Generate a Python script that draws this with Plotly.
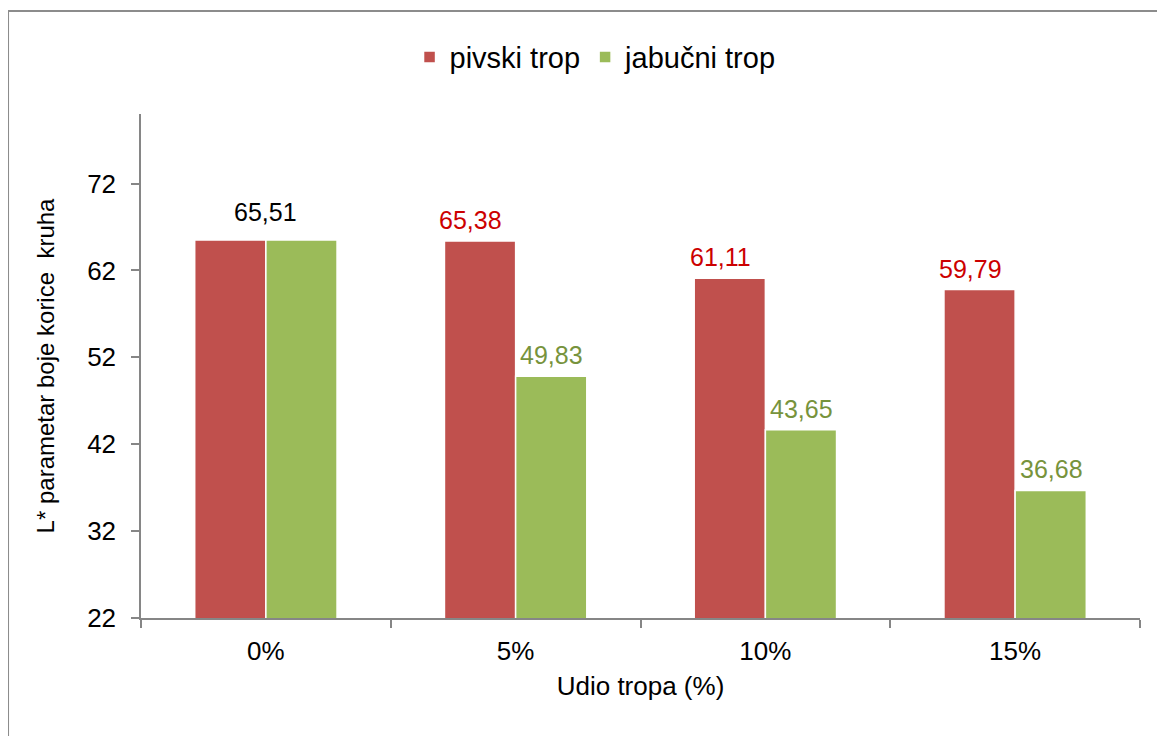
import plotly.graph_objects as go

# data
kategorije = ["0%", "5%", "10%", "15%"]
pivski_trop = [65.51, 65.38, 61.11, 59.79]
jabucni_trop = [65.51, 49.83, 43.65, 36.68]
y_ticks = [22, 32, 42, 52, 62, 72]

crvena = "#C0504D"
zelena = "#9BBB59"
font = "Liberation Sans, Arial, sans-serif"


def fmt(v):
    return f"{v:.2f}".replace(".", ",")


fig = go.Figure()
fig.add_trace(go.Bar(
    x=kategorije, y=pivski_trop, name="pivski trop",
    marker=dict(color=crvena, line=dict(color="white", width=1.5)),
))
fig.add_trace(go.Bar(
    x=kategorije, y=jabucni_trop, name="jabučni trop",
    marker=dict(color=zelena, line=dict(color="white", width=1.5)),
))

# data labels; at 0% both bars are equal so there is one shared black label
for i, kat in enumerate(kategorije):
    if pivski_trop[i] == jabucni_trop[i]:
        fig.add_annotation(x=kat, y=pivski_trop[i], text=fmt(pivski_trop[i]),
                           showarrow=False, yanchor="bottom", yshift=12,
                           font=dict(color="black", size=25, family=font))
        continue
    fig.add_annotation(x=kat, y=pivski_trop[i], text=fmt(pivski_trop[i]),
                       showarrow=False, yanchor="bottom", yshift=5, xshift=-45,
                       font=dict(color="#CC0000", size=25, family=font))
    fig.add_annotation(x=kat, y=jabucni_trop[i], text=fmt(jabucni_trop[i]),
                       showarrow=False, yanchor="bottom", yshift=5, xshift=36,
                       font=dict(color="#77933C", size=25, family=font))

# chart frame (only top and left edges visible in the original)
fig.add_shape(type="line", xref="paper", yref="paper",
              x0=-0.1331, x1=1.2, y0=1.2044, y1=1.2044,
              line=dict(color="#8C8C8C", width=2))
fig.add_shape(type="line", xref="paper", yref="paper",
              x0=-0.1331, x1=-0.1331, y0=1.2044, y1=-0.4,
              line=dict(color="#8C8C8C", width=2))

fig.update_layout(
    width=1165, height=736,
    margin=dict(l=133, r=33, t=106, b=126),
    paper_bgcolor="white", plot_bgcolor="white",
    barmode="group", bargap=0.43, bargroupgap=0,
    font=dict(family=font, size=26, color="black"),
    showlegend=True,
    legend=dict(orientation="h", x=0.455, xanchor="center", y=1.113, yanchor="middle",
                font=dict(size=29), itemwidth=30, traceorder="normal"),
)
fig.update_xaxes(
    showline=True, linecolor="#868686", linewidth=1.5,
    ticks="outside", tickson="boundaries", ticklen=8, tickcolor="#868686", tickwidth=1.5,
    tickfont=dict(size=26), showgrid=False, ticklabelstandoff=9,
    title=dict(text="Udio tropa (%)", font=dict(size=26), standoff=12),
)
fig.update_yaxes(
    range=[22, 80], tickvals=y_ticks,
    showline=True, linecolor="#868686", linewidth=1.5,
    ticks="outside", ticklen=8, tickcolor="#868686", tickwidth=1.5,
    tickfont=dict(size=26), showgrid=False, zeroline=False, ticklabelstandoff=10,
    title=dict(text="L* parametar boje korice\u00a0 kruha", font=dict(size=24), standoff=26),
)

fig.write_html("out.html")
